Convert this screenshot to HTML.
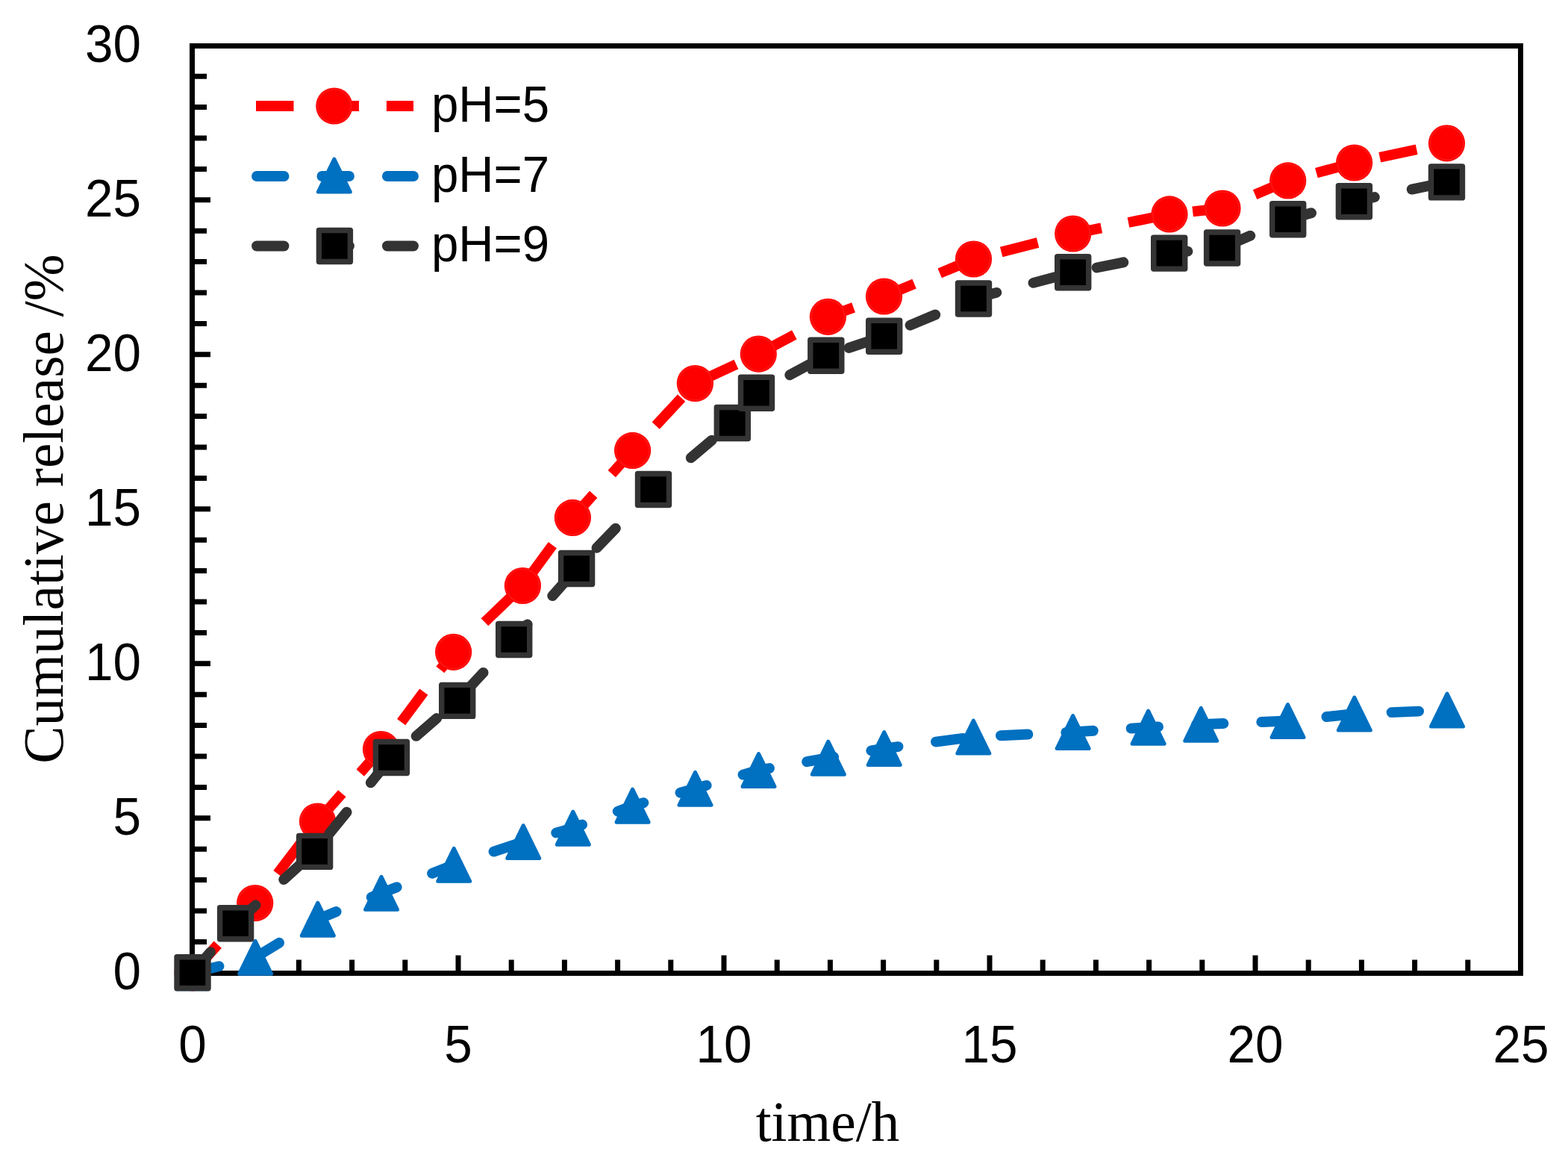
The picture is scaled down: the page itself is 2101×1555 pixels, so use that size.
<!DOCTYPE html><html><head><meta charset="utf-8"><title>Cumulative release</title>
<style>html,body{margin:0;padding:0;background:#fff;}svg{display:block;}.tk{font-family:"Liberation Sans",sans-serif;font-size:69.5px;fill:#000;}.lg{font-family:"Liberation Sans",sans-serif;font-size:69px;fill:#000;}.tt{font-family:"Liberation Serif",serif;font-size:75.4px;fill:#000;}</style></head><body>
<svg width="2101" height="1555" viewBox="0 0 2101 1555">
<rect width="2101" height="1555" fill="#fff"/>
<path d="M257.5 1261.4H277.0M257.5 1220.0H277.0M257.5 1178.6H277.0M257.5 1137.2H277.0M257.5 1095.8H282.0M257.5 1054.4H277.0M257.5 1013.0H277.0M257.5 971.6H277.0M257.5 930.2H277.0M257.5 888.8H282.0M257.5 847.4H277.0M257.5 806.0H277.0M257.5 764.6H277.0M257.5 723.2H277.0M257.5 681.8H282.0M257.5 640.4H277.0M257.5 599.0H277.0M257.5 557.6H277.0M257.5 516.2H277.0M257.5 474.8H282.0M257.5 433.4H277.0M257.5 392.0H277.0M257.5 350.6H277.0M257.5 309.2H277.0M257.5 267.8H282.0M257.5 226.4H277.0M257.5 185.0H277.0M257.5 143.6H277.0M257.5 102.2H277.0M400.4 1303.5V1285.5M471.6 1303.5V1285.5M542.8 1303.5V1285.5M614.0 1303.5V1279.5M685.2 1303.5V1285.5M756.4 1303.5V1285.5M827.6 1303.5V1285.5M898.8 1303.5V1285.5M970.0 1303.5V1279.5M1041.2 1303.5V1285.5M1112.4 1303.5V1285.5M1183.6 1303.5V1285.5M1254.8 1303.5V1285.5M1326.0 1303.5V1279.5M1397.2 1303.5V1285.5M1468.4 1303.5V1285.5M1539.6 1303.5V1285.5M1610.8 1303.5V1285.5M1682.0 1303.5V1279.5M1753.2 1303.5V1285.5M1824.4 1303.5V1285.5M1895.6 1303.5V1285.5M1966.8 1303.5V1285.5" stroke="#000" stroke-width="7" fill="none"/>
<rect x="257.5" y="61.5" width="1780.0" height="1242.0" fill="none" stroke="#000" stroke-width="7"/>
<text class="tk" x="189" y="1324.7" text-anchor="end" textLength="37.5" lengthAdjust="spacingAndGlyphs">0</text>
<text class="tk" x="189" y="1117.7" text-anchor="end" textLength="37.5" lengthAdjust="spacingAndGlyphs">5</text>
<text class="tk" x="189" y="910.7" text-anchor="end" textLength="75.0" lengthAdjust="spacingAndGlyphs">10</text>
<text class="tk" x="189" y="703.7" text-anchor="end" textLength="75.0" lengthAdjust="spacingAndGlyphs">15</text>
<text class="tk" x="189" y="496.7" text-anchor="end" textLength="75.0" lengthAdjust="spacingAndGlyphs">20</text>
<text class="tk" x="189" y="289.7" text-anchor="end" textLength="75.0" lengthAdjust="spacingAndGlyphs">25</text>
<text class="tk" x="189" y="82.7" text-anchor="end" textLength="75.0" lengthAdjust="spacingAndGlyphs">30</text>
<text class="tk" x="258.0" y="1422.7" text-anchor="middle" textLength="37.5" lengthAdjust="spacingAndGlyphs">0</text>
<text class="tk" x="614.0" y="1422.7" text-anchor="middle" textLength="37.5" lengthAdjust="spacingAndGlyphs">5</text>
<text class="tk" x="970.0" y="1422.7" text-anchor="middle" textLength="75.0" lengthAdjust="spacingAndGlyphs">10</text>
<text class="tk" x="1326.0" y="1422.7" text-anchor="middle" textLength="75.0" lengthAdjust="spacingAndGlyphs">15</text>
<text class="tk" x="1682.0" y="1422.7" text-anchor="middle" textLength="75.0" lengthAdjust="spacingAndGlyphs">20</text>
<text class="tk" x="2038.0" y="1422.7" text-anchor="middle" textLength="75.0" lengthAdjust="spacingAndGlyphs">25</text>
<text class="tt" x="1109" y="1527.7" text-anchor="middle">time/h</text>
<text class="tt" transform="translate(83.6 681.6) rotate(-90)" text-anchor="middle">Cumulative release /%</text>
<polyline points="258.0,1302.8 341.7,1209.5 425.5,1100.0 510.5,1003.5 607.6,873.3 700.4,784.5 767.4,693.4 847.6,603.4 931.4,513.5 1016.3,474.1 1109.4,424.3 1184.5,397.0 1304.5,347.0 1437.7,313.0 1567.0,286.9 1638.0,279.0 1725.7,241.9 1814.6,218.0 1938.5,191.8" fill="none" stroke="#FF0000" stroke-width="13.9" stroke-dasharray="50.5 36.95" stroke-dashoffset="0" stroke-linejoin="round"/>
<g fill="#FF0000"><circle cx="258.0" cy="1302.8" r="24.6"/><circle cx="258.0" cy="1302.8" r="22.5" fill="none" stroke="#FF1212" stroke-width="2.2"/><circle cx="341.7" cy="1209.5" r="24.6"/><circle cx="341.7" cy="1209.5" r="22.5" fill="none" stroke="#FF1212" stroke-width="2.2"/><circle cx="425.5" cy="1100.0" r="24.6"/><circle cx="425.5" cy="1100.0" r="22.5" fill="none" stroke="#FF1212" stroke-width="2.2"/><circle cx="510.5" cy="1003.5" r="24.6"/><circle cx="510.5" cy="1003.5" r="22.5" fill="none" stroke="#FF1212" stroke-width="2.2"/><circle cx="607.6" cy="873.3" r="24.6"/><circle cx="607.6" cy="873.3" r="22.5" fill="none" stroke="#FF1212" stroke-width="2.2"/><circle cx="700.4" cy="784.5" r="24.6"/><circle cx="700.4" cy="784.5" r="22.5" fill="none" stroke="#FF1212" stroke-width="2.2"/><circle cx="767.4" cy="693.4" r="24.6"/><circle cx="767.4" cy="693.4" r="22.5" fill="none" stroke="#FF1212" stroke-width="2.2"/><circle cx="847.6" cy="603.4" r="24.6"/><circle cx="847.6" cy="603.4" r="22.5" fill="none" stroke="#FF1212" stroke-width="2.2"/><circle cx="931.4" cy="513.5" r="24.6"/><circle cx="931.4" cy="513.5" r="22.5" fill="none" stroke="#FF1212" stroke-width="2.2"/><circle cx="1016.3" cy="474.1" r="24.6"/><circle cx="1016.3" cy="474.1" r="22.5" fill="none" stroke="#FF1212" stroke-width="2.2"/><circle cx="1109.4" cy="424.3" r="24.6"/><circle cx="1109.4" cy="424.3" r="22.5" fill="none" stroke="#FF1212" stroke-width="2.2"/><circle cx="1184.5" cy="397.0" r="24.6"/><circle cx="1184.5" cy="397.0" r="22.5" fill="none" stroke="#FF1212" stroke-width="2.2"/><circle cx="1304.5" cy="347.0" r="24.6"/><circle cx="1304.5" cy="347.0" r="22.5" fill="none" stroke="#FF1212" stroke-width="2.2"/><circle cx="1437.7" cy="313.0" r="24.6"/><circle cx="1437.7" cy="313.0" r="22.5" fill="none" stroke="#FF1212" stroke-width="2.2"/><circle cx="1567.0" cy="286.9" r="24.6"/><circle cx="1567.0" cy="286.9" r="22.5" fill="none" stroke="#FF1212" stroke-width="2.2"/><circle cx="1638.0" cy="279.0" r="24.6"/><circle cx="1638.0" cy="279.0" r="22.5" fill="none" stroke="#FF1212" stroke-width="2.2"/><circle cx="1725.7" cy="241.9" r="24.6"/><circle cx="1725.7" cy="241.9" r="22.5" fill="none" stroke="#FF1212" stroke-width="2.2"/><circle cx="1814.6" cy="218.0" r="24.6"/><circle cx="1814.6" cy="218.0" r="22.5" fill="none" stroke="#FF1212" stroke-width="2.2"/><circle cx="1938.5" cy="191.8" r="24.6"/><circle cx="1938.5" cy="191.8" r="22.5" fill="none" stroke="#FF1212" stroke-width="2.2"/></g>
<polyline points="258.0,1302.8 342.1,1282.3 425.8,1231.2 511.0,1196.3 608.2,1158.3 701.2,1127.5 767.8,1109.2 847.6,1079.2 931.5,1056.3 1016.5,1031.5 1109.8,1015.2 1184.7,1002.5 1304.3,987.1 1437.6,980.5 1538.6,974.2 1609.2,970.3 1725.5,965.5 1814.8,956.1 1939.0,951.1" fill="none" stroke="#0070C0" stroke-width="13.9" stroke-dasharray="36.5 50.95" stroke-linecap="round" stroke-linejoin="round"/>
<g fill="#0070C0" stroke="#0070C0" stroke-width="5" stroke-linejoin="round"><polygon points="258.0,1280.8 279.5,1324.8 236.5,1324.8"/><polygon points="342.1,1260.3 363.6,1304.3 320.6,1304.3"/><polygon points="425.8,1209.2 447.3,1253.2 404.3,1253.2"/><polygon points="511.0,1174.3 532.5,1218.3 489.5,1218.3"/><polygon points="608.2,1136.3 629.7,1180.3 586.7,1180.3"/><polygon points="701.2,1105.5 722.7,1149.5 679.7,1149.5"/><polygon points="767.8,1087.2 789.3,1131.2 746.3,1131.2"/><polygon points="847.6,1057.2 869.1,1101.2 826.1,1101.2"/><polygon points="931.5,1034.3 953.0,1078.3 910.0,1078.3"/><polygon points="1016.5,1009.5 1038.0,1053.5 995.0,1053.5"/><polygon points="1109.8,993.2 1131.3,1037.2 1088.3,1037.2"/><polygon points="1184.7,980.5 1206.2,1024.5 1163.2,1024.5"/><polygon points="1304.3,965.1 1325.8,1009.1 1282.8,1009.1"/><polygon points="1437.6,958.5 1459.1,1002.5 1416.1,1002.5"/><polygon points="1538.6,952.2 1560.1,996.2 1517.1,996.2"/><polygon points="1609.2,948.3 1630.7,992.3 1587.7,992.3"/><polygon points="1725.5,943.5 1747.0,987.5 1704.0,987.5"/><polygon points="1814.8,934.1 1836.3,978.1 1793.3,978.1"/><polygon points="1939.0,929.1 1960.5,973.1 1917.5,973.1"/></g>
<polyline points="258.0,1302.8 315.6,1236.7 421.6,1140.4 524.4,1014.5 612.7,938.4 688.7,856.5 772.6,761.5 875.5,655.5 981.3,566.5 1013.5,526.3 1106.8,476.2 1184.7,450.2 1304.5,400.0 1437.7,364.8 1566.7,339.1 1637.6,332.0 1725.7,293.8 1814.4,269.7 1938.5,243.9" fill="none" stroke="#333333" stroke-width="13.9" stroke-dasharray="36.5 50.95" stroke-linecap="round" stroke-linejoin="round"/>
<g fill="#000" stroke="#333333" stroke-width="7.4" stroke-linejoin="round"><rect x="237.0" y="1281.8" width="42.0" height="42.0"/><rect x="294.6" y="1215.7" width="42.0" height="42.0"/><rect x="400.6" y="1119.4" width="42.0" height="42.0"/><rect x="503.4" y="993.5" width="42.0" height="42.0"/><rect x="591.7" y="917.4" width="42.0" height="42.0"/><rect x="667.7" y="835.5" width="42.0" height="42.0"/><rect x="751.6" y="740.5" width="42.0" height="42.0"/><rect x="854.5" y="634.5" width="42.0" height="42.0"/><rect x="960.3" y="545.5" width="42.0" height="42.0"/><rect x="992.5" y="505.3" width="42.0" height="42.0"/><rect x="1085.8" y="455.2" width="42.0" height="42.0"/><rect x="1163.7" y="429.2" width="42.0" height="42.0"/><rect x="1283.5" y="379.0" width="42.0" height="42.0"/><rect x="1416.7" y="343.8" width="42.0" height="42.0"/><rect x="1545.7" y="318.1" width="42.0" height="42.0"/><rect x="1616.6" y="311.0" width="42.0" height="42.0"/><rect x="1704.7" y="272.8" width="42.0" height="42.0"/><rect x="1793.4" y="248.7" width="42.0" height="42.0"/><rect x="1917.5" y="222.9" width="42.0" height="42.0"/></g>
<path d="M343 142.0H554" stroke="#FF0000" stroke-width="13.9" stroke-dasharray="50.5 36.95"/>
<g fill="#FF0000"><circle cx="447.8" cy="142.0" r="24.6"/><circle cx="447.8" cy="142.0" r="22.5" fill="none" stroke="#FF1212" stroke-width="2.2"/></g>
<path d="M344 236.0H554" stroke="#0070C0" stroke-width="13.9" stroke-dasharray="36.5 50.95" stroke-linecap="round"/>
<g fill="#0070C0" stroke="#0070C0" stroke-width="5" stroke-linejoin="round"><polygon points="447.8,213.0 469.3,257.0 426.3,257.0"/></g>
<path d="M344 329.5H554" stroke="#333333" stroke-width="13.9" stroke-dasharray="36.5 50.95" stroke-linecap="round"/>
<g fill="#000" stroke="#333333" stroke-width="7.4" stroke-linejoin="round"><rect x="427.4" y="308.5" width="42.0" height="42.0"/></g>
<text class="lg" x="578" y="162.6" textLength="158" lengthAdjust="spacingAndGlyphs">pH=5</text>
<text class="lg" x="578" y="256.6" textLength="158" lengthAdjust="spacingAndGlyphs">pH=7</text>
<text class="lg" x="578" y="350.1" textLength="158" lengthAdjust="spacingAndGlyphs">pH=9</text>
</svg></body></html>
